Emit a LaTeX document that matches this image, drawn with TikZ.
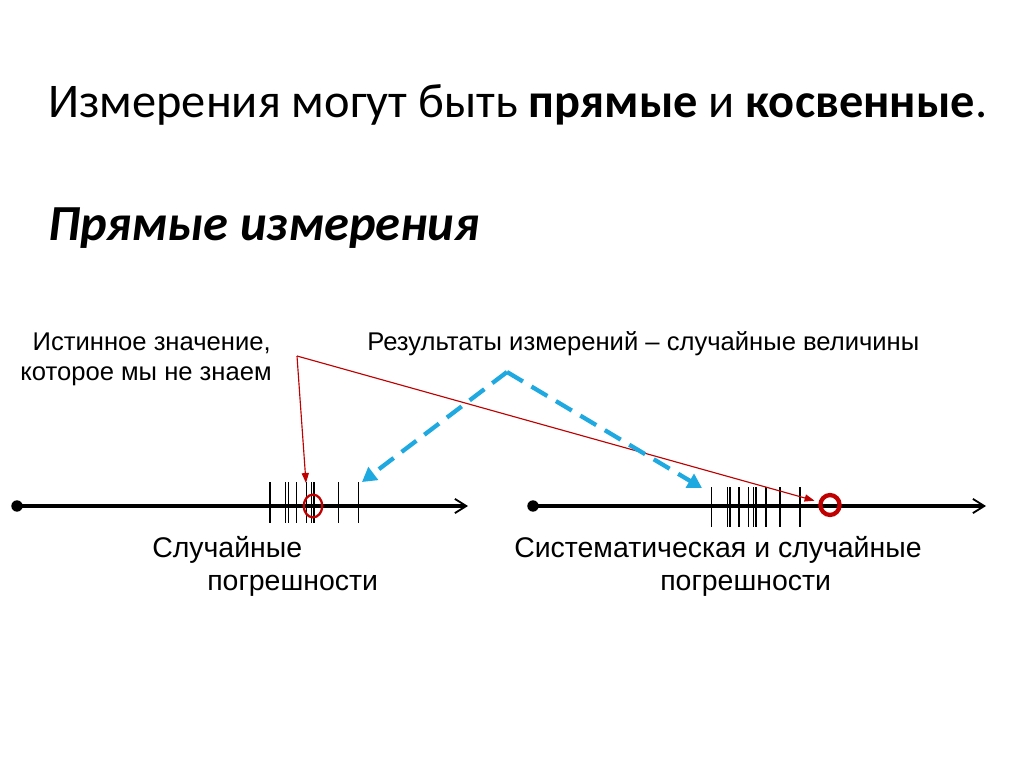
\documentclass[tikz,border=0pt]{standalone}
\usepackage{fontspec}
\setmainfont{Liberation Sans}
\newfontfamily\titlefont{Carlito}
\usepackage{tikz}
\usetikzlibrary{
	shapes.geometric,
	arrows.meta,
	positioning,
	calc
}
\definecolor{truered}{HTML}{C00000}
\definecolor{resblue}{HTML}{1FA9E1}

\begin{document}
\begin{tikzpicture}[
				x=0.703pt, y=-0.703pt,
				label/.style={
					inner sep=0pt, font=\fontsize{18}{22}\selectfont
				},
				caption/.style={
					inner sep=0pt, font=\fontsize{20}{24}\selectfont
				},
				axis/.style={line width=2.3pt, -{Straight Barb[length=8pt, width=10pt, line width=1.3pt]}},
				dot/.style={circle, fill, inner sep=0pt, minimum size=8pt},
				tick/.style={line width=1.1pt},
				truemark/.style={ellipse, draw=truered, inner sep=0pt},
				redarrow/.style={-{Triangle[length=7pt, width=5pt]}, line width=0.8pt, truered},
				bluearrow/.style={-{Triangle[length=10pt, width=11pt]}, line width=3pt, resblue,
					dash pattern=on 13pt off 7pt}
				]
				
				\useasboundingbox[fill=white] (0,0) rectangle (1024,768);
				
				% title
				\node[anchor=base west, inner sep=0pt, font=\titlefont\fontsize{34}{40}\selectfont] (title) at (48,117)
					{Измерения могут быть \textbf{прямые} и \textbf{косвенные}.};
				
				% subtitle
				\node[anchor=base west, inner sep=0pt, font=\titlefont\fontsize{35.5}{40}\selectfont\bfseries\itshape] (subtitle) at (48,240)
					{Прямые измерения};
				
				% labels
				\node[label, anchor=base east] (trueA) at (271,350) {Истинное значение,};
				\node[label, anchor=base east] (trueB) at (272,380) {которое мы не знаем};
				\node[label, anchor=base west] (results) at (367,350) {Результаты измерений – случайные величины};
				
				% left axis
				\node[dot] (startL) at (17,506) {};
				\coordinate (endL) at (468,506);
				\draw[axis] (startL.center) -- (endL);
				\foreach \t in {270,285.7,288.7,296.7,306.7,311.7,314,338.3,358.3}
					\draw[tick] (\t,482) -- (\t,523);
				\node[truemark, line width=1.6pt, minimum width=13pt, minimum height=16pt] (trueL) at (313,506) {};
				
				% right axis
				\node[dot] (startR) at (533,506) {};
				\coordinate (endR) at (986,506);
				\draw[axis] (startR.center) -- (endR);
				\foreach \t in {711.7,727.7,730,739,748.7,753.3,756,766,780,800}
					\draw[tick] (\t,487) -- (\t,527);
				\node[truemark, line width=3pt, minimum width=13.5pt, minimum height=14pt] (trueR) at (830,505) {};
				
				% captions
				\node[caption, anchor=base west] (capLA) at (152,557) {Случайные};
				\node[caption, anchor=base west] (capLB) at (207,590) {погрешности};
				\node[caption, anchor=base west] (capRA) at (514,557) {Систематическая и случайные};
				\node[caption, anchor=base west] (capRB) at (660,590) {погрешности};
				
				% true value arrows
				\coordinate (trueSrc) at (297,356);
				\coordinate (trueTipL) at (306,483);
				\draw[redarrow] (trueSrc) -- (trueTipL);
				\draw[redarrow, shorten >=3pt] (trueSrc) -- (trueR);
				
				% result arrows
				\coordinate (peak) at (507,372);
				\coordinate (resL) at (362,482);
				\coordinate (resR) at (702,488);
				\draw[bluearrow] (peak) -- (resL);
				\draw[bluearrow] (peak) -- (resR);
			\end{tikzpicture}
\end{document}
